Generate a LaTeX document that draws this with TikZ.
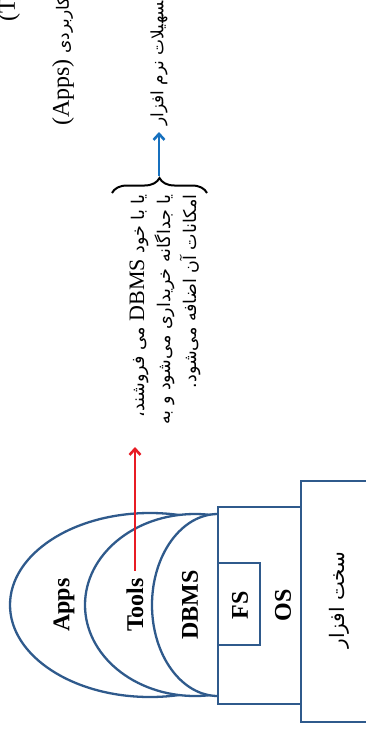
\documentclass[tikz,border=0pt]{standalone}
\usepackage{fontspec}
\setmainfont{Liberation Serif}
\newfontfamily\farsi[Script=Arabic]{DejaVu Sans}
\TeXXeTstate=1
\usetikzlibrary{arrows.meta, decorations.pathreplacing}
\definecolor{layerblue}{RGB}{47,90,140}
\definecolor{toolred}{RGB}{232,28,36}
\definecolor{softblue}{RGB}{22,112,190}

\begin{document}
\begin{tikzpicture}[x=1pt, y=-1pt,
    layer/.style={draw=layerblue, fill=white, line width=2.3pt},
    lbl/.style={rotate=90, font=\fontsize{24}{24}\selectfont\bfseries},
    note/.style={rotate=90, inner sep=0pt}]
    \useasboundingbox (0,0) rectangle (366,736);

    % Apps, Tools, DBMS
    \draw[layer] (150,605) ellipse[x radius=140, y radius=92];
    \draw[layer] (195,605) ellipse[x radius=110, y radius=91];
    \draw[layer] (218,605) ellipse[x radius=66, y radius=91];

    % hardware, OS and FS
    \draw[layer] (380,481) -- (301,481) -- (301,722) -- (380,722);
    \draw[layer] (218,507) rectangle (301,704);
    \draw[layer] (218,563) rectangle (260,645);

    \node[lbl] (Apps) at (64,605) {Apps};
    \node[lbl] (Tools) at (135,605) {Tools};
    \node[lbl] (DBMS) at (190,605) {DBMS};
    \node[lbl] (FS) at (240,605) {FS};
    \node[lbl] (OS) at (283,605) {OS};
    \node[rotate=90, font=\farsi\fontsize{20}{20}\selectfont] (HW) at (339,600) {\beginR سخت افزار\endR};

    % notes
    \node[note, anchor=west, font=\farsi\fontsize{17}{17}\selectfont] (ToolsNote) at (9,22)
        {\beginR ابزارها \beginL{\rmfamily\fontsize{24}{24}\selectfont(Tools)}\endL\endR};
    \node[note, anchor=west, font=\farsi\fontsize{17}{17}\selectfont] (AppsNote) at (63,126)
        {\beginR برنامه‌های کاربردی \beginL{\rmfamily\fontsize{24}{24}\selectfont(Apps)}\endL\endR};
    \node[note, anchor=west, font=\farsi\fontsize{17}{17}\selectfont] (Soft) at (159,126)
        {\beginR تسهیلات نرم افزار\endR};
    \node[note, anchor=east, align=right, font=\farsi\fontsize{17.5}{26}\selectfont] (Sold) at (165,194)
        {\beginR یا با خود \beginL{\rmfamily\fontsize{22}{22}\selectfont DBMS}\endL{} می فروشند،\endR\\
         \beginR یا جداگانه خریداری می‌شود و به\endR\\
         \beginR امکانات آن اضافه می‌شود.\endR};

    % brace and arrows
    \coordinate (BraceL) at (112,193);
    \coordinate (BraceR) at (207,193);
    \coordinate (BraceTip) at (159,176);
    \coordinate (RedTip) at (135,447);
    \draw[line width=2pt, decorate, decoration={brace, amplitude=15pt}] (BraceL) -- (BraceR);
    \draw[-{Straight Barb[length=6pt, width=11pt]}, line width=2.6pt, softblue] (BraceTip) -- ([yshift=-6pt]Soft.west);
    \draw[-{Straight Barb[length=6pt, width=11pt]}, line width=2.6pt, toolred] ([yshift=4pt]Tools.east) -- (RedTip);
\end{tikzpicture}
\end{document}
